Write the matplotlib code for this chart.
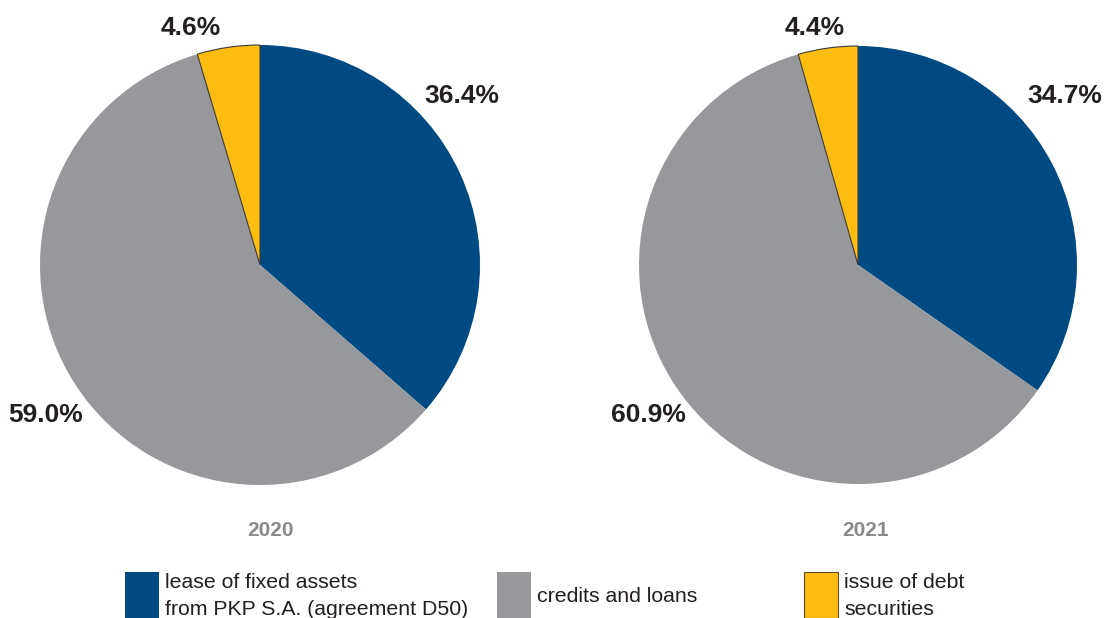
import matplotlib
matplotlib.use("Agg")
import matplotlib.pyplot as plt
from matplotlib.patches import Rectangle

plt.rcParams['font.family'] = ['Liberation Sans', 'DejaVu Sans']

# Financing structure by source
categories = ["lease of fixed assets\nfrom PKP S.A. (agreement D50)",
              "credits and loans",
              "issue of debt\nsecurities"]
years = ["2020", "2021"]
shares_2020 = [36.4, 59.0, 4.6]
shares_2021 = [34.7, 60.9, 4.4]
colors = ["#004A83", "#97989C", "#FDBD10"]

W, H = 1106, 618
fig = plt.figure(figsize=(W / 100, H / 100), dpi=100)
TXT = "#231F20"


def px_axes(cx, cy, r):
    return fig.add_axes([(cx - r) / W, (H - cy - r) / H, 2 * r / W, 2 * r / H])


def draw_pie(ax, values, label_pos):
    wedges, _ = ax.pie(values, colors=colors, startangle=90, counterclock=False,
                       radius=1.0, wedgeprops=dict(linewidth=0))
    wedges[2].set_edgecolor("#3a3a3a")
    wedges[2].set_linewidth(0.8)
    ax.set_xlim(-1, 1)
    ax.set_ylim(-1, 1)
    ax.set_axis_off()
    for v, (x, y) in zip(values, label_pos):
        ax.text(x, y, f"{v:.1f}%", ha="center", va="center", fontsize=19,
                fontweight="bold", color=TXT, clip_on=False)


ax1 = px_axes(260, 265, 220)
draw_pie(ax1, shares_2020, [(0.918, 0.768), (-0.973, -0.682), (-0.314, 1.077)])
ax2 = px_axes(858, 265, 219)
draw_pie(ax2, shares_2021, [(0.945, 0.772), (-0.959, -0.685), (-0.196, 1.082)])

for yr, x in zip(years, [270, 866]):
    fig.text(x / W, 1 - 530 / H, yr, ha="center", va="center", fontsize=15,
             fontweight="bold", color="#8A8A8A")

# Legend
legend_x = [125, 497, 804]
for lab, col, x in zip(categories, colors, legend_x):
    is_debt = col == colors[2]
    fig.patches.append(Rectangle((x / W, 0), 34 / W, (618 - 572) / H,
                                 transform=fig.transFigure, facecolor=col,
                                 edgecolor="#5a4a20" if is_debt else col,
                                 linewidth=0.8 if is_debt else 0))
    fig.text((x + 40) / W, 1 - 596 / H, lab, ha="left", va="center",
             fontsize=15.3, color=TXT, linespacing=1.5)

fig.savefig("out.png", dpi=100)
